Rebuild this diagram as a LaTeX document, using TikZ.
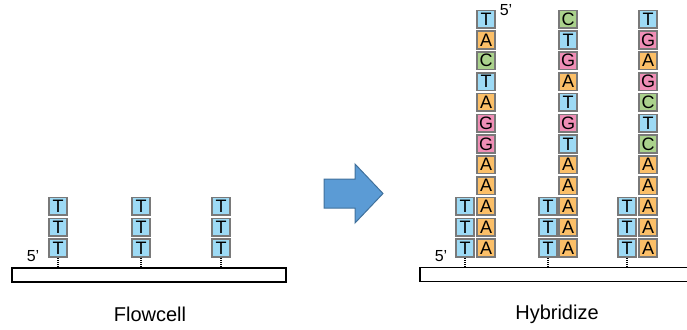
\documentclass[tikz,border=0pt]{standalone}
\usepackage{fontspec}
\setmainfont{Liberation Sans}
\usetikzlibrary{positioning}
\definecolor{colT}{RGB}{157,218,245}
\definecolor{colA}{RGB}{251,191,104}
\definecolor{colC}{RGB}{170,210,140}
\definecolor{colG}{RGB}{240,142,182}
\definecolor{arrowfill}{RGB}{91,155,213}
\definecolor{arrowline}{RGB}{65,113,156}
\tikzset{
  base/.style={draw=gray!95!black, line width=1.6pt, minimum size=17.5pt, inner sep=0pt,
    font=\fontsize{18}{18}\selectfont},
  nT/.style={base, fill=colT}, nA/.style={base, fill=colA},
  nC/.style={base, fill=colC}, nG/.style={base, fill=colG},
  cell/.style={draw, line width=1.3pt, minimum height=14pt, inner sep=0pt},
  link/.style={line width=1.2pt, dash pattern=on 1pt off 1.2pt},
  caption/.style={font=\fontsize{20}{20}\selectfont}
}

\begin{document}
\begin{tikzpicture}[x=1pt,y=-1pt]
		\useasboundingbox (0,0) rectangle (687,329);
		% flowcell
		\node[cell, minimum width=274pt] (cellL) at (149,275) {};
		\foreach \x [count=\i] in {58,141,221} {
			\foreach \j in {1,2,3}
			\node[nT] (L\i\j) at (\x,{248-20.8*(\j-1)}) {T};
			\draw[link] (L\i1.south) -- (L\i1.south |- cellL.north);
		}
		\node[font=\fontsize{16}{16}\selectfont] (fiveL) at (33,256) {5'};
		\node[caption] (capL) at (150,314) {Flowcell};
		% arrow
		\draw[fill=arrowfill, draw=arrowline, line width=1pt] (324,179) -- (355,179) -- (355,164) -- (383,193.5)
		-- (355,223) -- (355,208) -- (324,208) -- cycle;
		% hybridize
		\node[cell, minimum width=280pt] (cellR) at (560,274.5) {};
		\foreach \x [count=\i] in {465,548,627} {
			\foreach \j in {1,2,3}
			\node[nT] (R\i\j) at (\x,{248-20.8*(\j-1)}) {T};
			\draw[link] (R\i1.south) -- (R\i1.south |- cellR.north);
		}
		\foreach \x/\s [count=\i] in {486/{T,A,C,T,A,G,G,A,A,A,A,A},
			568/{C,T,G,A,T,G,T,A,A,A,A,A},
			648/{T,G,A,G,C,T,C,A,A,A,A,A}} {
			\foreach \b [count=\j] in \s
			\node[n\b] (S\i\j) at (\x,{19.2+20.8*(\j-1)}) {\b};
		}
		\node[font=\fontsize{16}{16}\selectfont] (fiveR) at (441,256) {5'};
		\node[font=\fontsize{16}{16}\selectfont] (fiveTop) at (506,10) {5'};
		\node[caption] (capR) at (557,314) {Hybridize};
	\end{tikzpicture}
\end{document}
